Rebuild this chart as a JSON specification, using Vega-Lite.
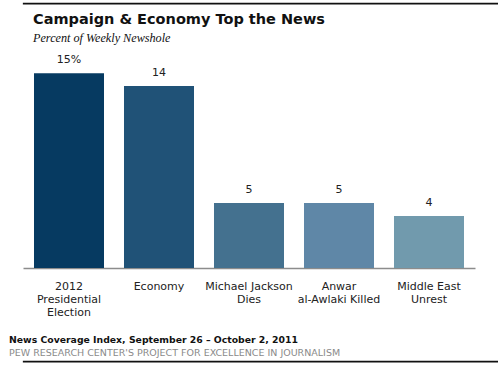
{
  "$schema": "https://vega.github.io/schema/vega-lite/v6.json",
  "padding": {"left": 0, "right": 0, "top": 2, "bottom": 0},
  "background": "white",
  "spacing": 5,
  "align": "none",
  "config": {"view": {"stroke": null}, "font": "DejaVu Sans"},
  "data": {
    "values": [
      {"topic": "2012\nPresidential\nElection", "value": 15, "label": "15%"},
      {"topic": "Economy", "value": 14, "label": "14"},
      {"topic": "Michael Jackson\nDies", "value": 5, "label": "5"},
      {"topic": "Anwar\nal-Awlaki Killed", "value": 5, "label": "5"},
      {"topic": "Middle East\nUnrest", "value": 4, "label": "4"}
    ]
  },
  "vconcat": [
    {
      "width": 500,
      "height": 0.5,
      "view": {"stroke": "#111111", "strokeWidth": 1.1},
      "title": {
        "text": "Campaign & Economy Top the News",
        "subtitle": "Percent of Weekly Newshole",
        "orient": "bottom",
        "anchor": "start",
        "frame": "group",
        "dx": 10,
        "offset": 9,
        "font": "DejaVu Sans",
        "fontSize": 14.5,
        "fontWeight": "bold",
        "color": "#111111",
        "subtitleFont": "Liberation Serif",
        "subtitleFontStyle": "italic",
        "subtitleFontSize": 12.2,
        "subtitleColor": "#111111",
        "subtitlePadding": 5
      },
      "mark": {"type": "point", "opacity": 0, "size": 0},
      "encoding": {}
    },
    {
      "spacing": 2,
      "align": "none",
      "vconcat": [
        {
          "width": 452,
          "height": 218,
          "title": {
            "text": "News Coverage Index, September 26 – October 2, 2011",
            "subtitle": "PEW RESEARCH CENTER'S PROJECT FOR EXCELLENCE IN JOURNALISM",
            "orient": "bottom",
            "anchor": "start",
            "frame": "group",
            "dx": -14,
            "offset": 19,
            "font": "DejaVu Sans",
            "fontSize": 9.3,
            "fontWeight": "bold",
            "color": "#111111",
            "subtitleFont": "DejaVu Sans",
            "subtitleFontSize": 9.5,
            "subtitleColor": "#8a8a8a",
            "subtitlePadding": 3
          },
          "encoding": {
            "x": {
              "field": "topic",
              "type": "nominal",
              "sort": null,
              "scale": {"paddingInner": 0.2222, "paddingOuter": 0.1222},
              "axis": {
                "title": null,
                "labelAngle": 0,
                "labelExpr": "split(datum.value, '\\n')",
                "ticks": false,
                "domainColor": "#8c8c8c",
                "domainWidth": 1.5,
                "labelFont": "DejaVu Sans",
                "labelFontSize": 11,
                "labelColor": "#222222",
                "labelPadding": 12,
                "labelLineHeight": 13,
                "labelBaseline": "top",
                "labelOverlap": false
              }
            },
            "y": {
              "field": "value",
              "type": "quantitative",
              "scale": {"domain": [0, 16.78], "nice": false},
              "axis": {
                "title": null,
                "labels": false,
                "ticks": false,
                "domain": false,
                "grid": false,
                "minExtent": 23,
                "maxExtent": 23
              }
            }
          },
          "layer": [
            {
              "mark": {"type": "bar"},
              "encoding": {
                "color": {
                  "field": "topic",
                  "type": "nominal",
                  "sort": null,
                  "scale": {
                    "domain": ["2012\nPresidential\nElection", "Economy", "Michael Jackson\nDies", "Anwar\nal-Awlaki Killed", "Middle East\nUnrest"],
                    "range": ["#063a61", "#205277", "#44718f", "#5f87a7", "#719aad"]
                  },
                  "legend": null
                }
              }
            },
            {
              "mark": {"type": "text", "baseline": "bottom", "dy": -8, "fontSize": 11, "font": "DejaVu Sans", "color": "#222222"},
              "encoding": {"text": {"field": "label"}}
            }
          ]
        },
        {
          "width": 500,
          "height": 0.5,
          "view": {"stroke": "#111111", "strokeWidth": 1.1},
          "mark": {"type": "point", "opacity": 0, "size": 0},
          "encoding": {}
        }
      ]
    }
  ]
}
